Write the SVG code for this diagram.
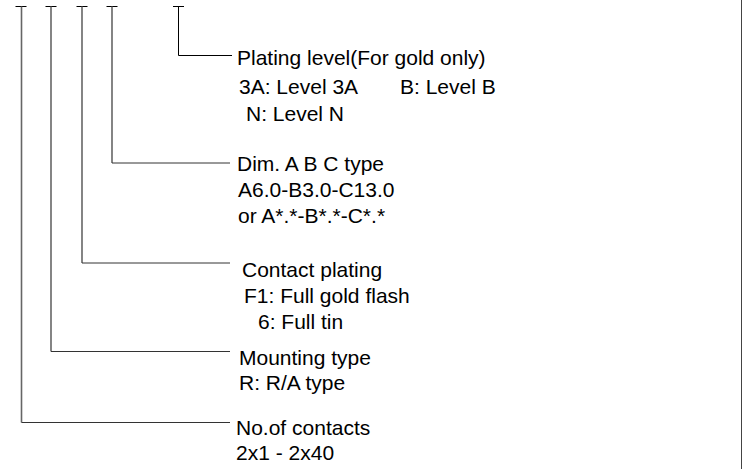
<svg xmlns="http://www.w3.org/2000/svg" width="742" height="469" viewBox="0 0 742 469">
<style>
.t{font-family:"Liberation Sans",Arial,sans-serif;font-size:21px;fill:#000}
.v{stroke:#666;stroke-width:1.6;fill:none}
.h{stroke:#333;stroke-width:1;fill:none}
.k{stroke:#000;stroke-width:1;fill:none}
</style>
<rect width="742" height="469" fill="#fff"/>
<line x1="741.5" y1="0" x2="741.5" y2="469" stroke="#444" stroke-width="1"/>
<g id="connectors">
<path class="k" d="M15.5 6.5H26.5M45.5 6.5H56.5M76.5 6.5H87.5M106.5 6.5H117.5M173 6.5H184"/>
<path class="v" d="M21.5 6.5V422.5"/>
<path class="h" d="M21.5 422.5H230"/>
<path class="v" d="M51 6.5V351.5"/>
<path class="h" d="M51 351.5H230"/>
<path class="v" d="M82 6.5V263"/>
<path class="h" d="M82 263H230"/>
<path class="v" d="M112 6.5V163"/>
<path class="h" d="M112 163H230"/>
<path class="k" d="M178.5 6.5V55.5H232"/>
</g>
<g id="plating-level">
<text class="t" x="237" y="65">Plating level(For gold only)</text>
<text class="t" x="239" y="94">3A: Level 3A</text>
<text class="t" x="400" y="94">B:  Level B</text>
<text class="t" x="246" y="121">N:  Level N</text>
</g>
<g id="dim-type">
<text class="t" x="237" y="171">Dim. A B C type</text>
<text class="t" x="238" y="197">A6.0-B3.0-C13.0</text>
<text class="t" x="238" y="223">or A*.*-B*.*-C*.*</text>
</g>
<g id="contact-plating">
<text class="t" x="242" y="277">Contact plating</text>
<text class="t" x="244" y="303">F1: Full gold flash</text>
<text class="t" x="258" y="329">6: Full tin</text>
</g>
<g id="mounting-type">
<text class="t" x="239" y="365">Mounting type</text>
<text class="t" x="239" y="390">R: R/A type</text>
</g>
<g id="contacts">
<text class="t" x="236" y="435">No.of contacts</text>
<text class="t" x="236" y="460">2x1 - 2x40</text>
</g>
</svg>
